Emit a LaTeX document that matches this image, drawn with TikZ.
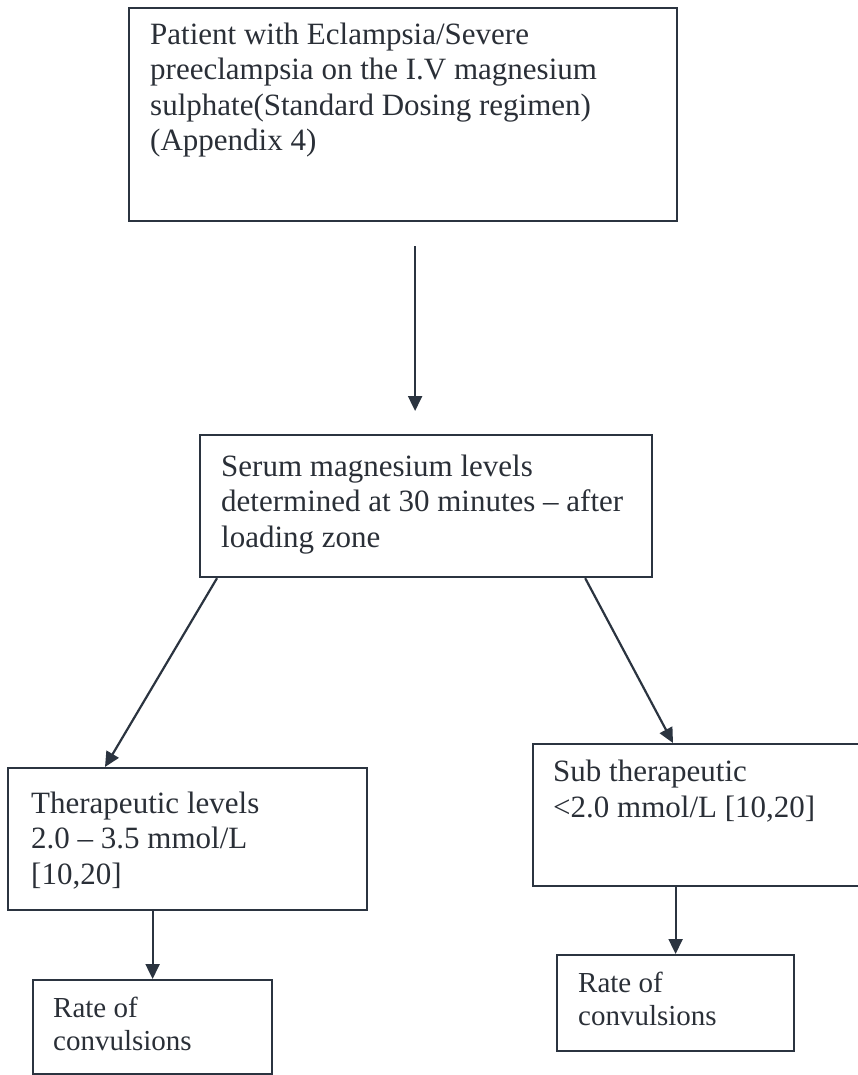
\documentclass[tikz,border=0pt]{standalone}
\usepackage{fontspec}
\setmainfont{Liberation Serif}
\usetikzlibrary{arrows.meta}
\definecolor{chartink}{HTML}{2B3440}
\definecolor{charttext}{HTML}{2A2F37}

\begin{document}
\begin{tikzpicture}[
  x=1pt,
  y=-1pt,
  box/.style={draw=chartink, line width=2.2pt, inner sep=0pt, anchor=north west},
  boxtext/.style={charttext, anchor=base west, inner sep=0pt, align=left,
                  font=\fontsize{31}{35.5}\selectfont},
  smalltext/.style={boxtext, font=\fontsize{29}{33}\selectfont},
  flow/.style={chartink, line width=2.2pt, -{Triangle[length=15pt, width=14pt]}}
]
  % ---- page, the size of the scanned chart -----------------------------
  \useasboundingbox (0,0) rectangle (858,1075);

  % ---- the boxes -------------------------------------------------------
  \node[box, minimum width=548pt, minimum height=213pt] (patient) at (128,7) {};
  \node[box, minimum width=452pt, minimum height=142pt] (serum) at (199,434) {};
  \node[box, minimum width=359pt, minimum height=142pt] (thera) at (7,767) {};
  \node[box, minimum width=330pt, minimum height=142pt] (subthera) at (532,743) {};
  \node[box, minimum width=239pt, minimum height=94pt] (rateleft) at (32,979) {};
  \node[box, minimum width=237pt, minimum height=96pt] (rateright) at (556,954) {};

  % ---- what each box says (placed on the baseline of its last line) ----
  \node[boxtext] (patienttext) at (150,151)
    {Patient with Eclampsia/Severe\\preeclampsia on the I.V magnesium\\
     sulphate(Standard Dosing regimen)\\(Appendix 4)};
  \node[boxtext] (serumtext) at (221,547)
    {Serum magnesium levels\\determined at 30 minutes – after\\loading zone};
  \node[boxtext] (theratext) at (31,884)
    {Therapeutic levels\\2.0 – 3.5 mmol/L\\{[10,20]}};
  \node[boxtext] (subtheratext) at (553,817)
    {Sub therapeutic\\<2.0 mmol/L [10,20]};
  \node[smalltext] (ratelefttext) at (53,1050) {Rate of\\convulsions};
  \node[smalltext] (raterighttext) at (578,1025) {Rate of\\convulsions};

  % ---- arrows ----------------------------------------------------------
  \draw[flow, shorten <=24pt, shorten >=23pt]
    ([xshift=12pt]patient.south) -- ([xshift=-11pt]serum.north);
  \draw[flow] ([xshift=18pt]serum.south west) -- ([xshift=98pt]thera.north west);
  \draw[flow] ([xshift=-68pt]serum.south east) -- ([xshift=141pt]subthera.north west);
  \draw[flow] (thera.south -| rateleft.north) -- (rateleft.north);
  \draw[flow] (subthera.south -| rateright.north) -- (rateright.north);

\end{tikzpicture}
\end{document}
